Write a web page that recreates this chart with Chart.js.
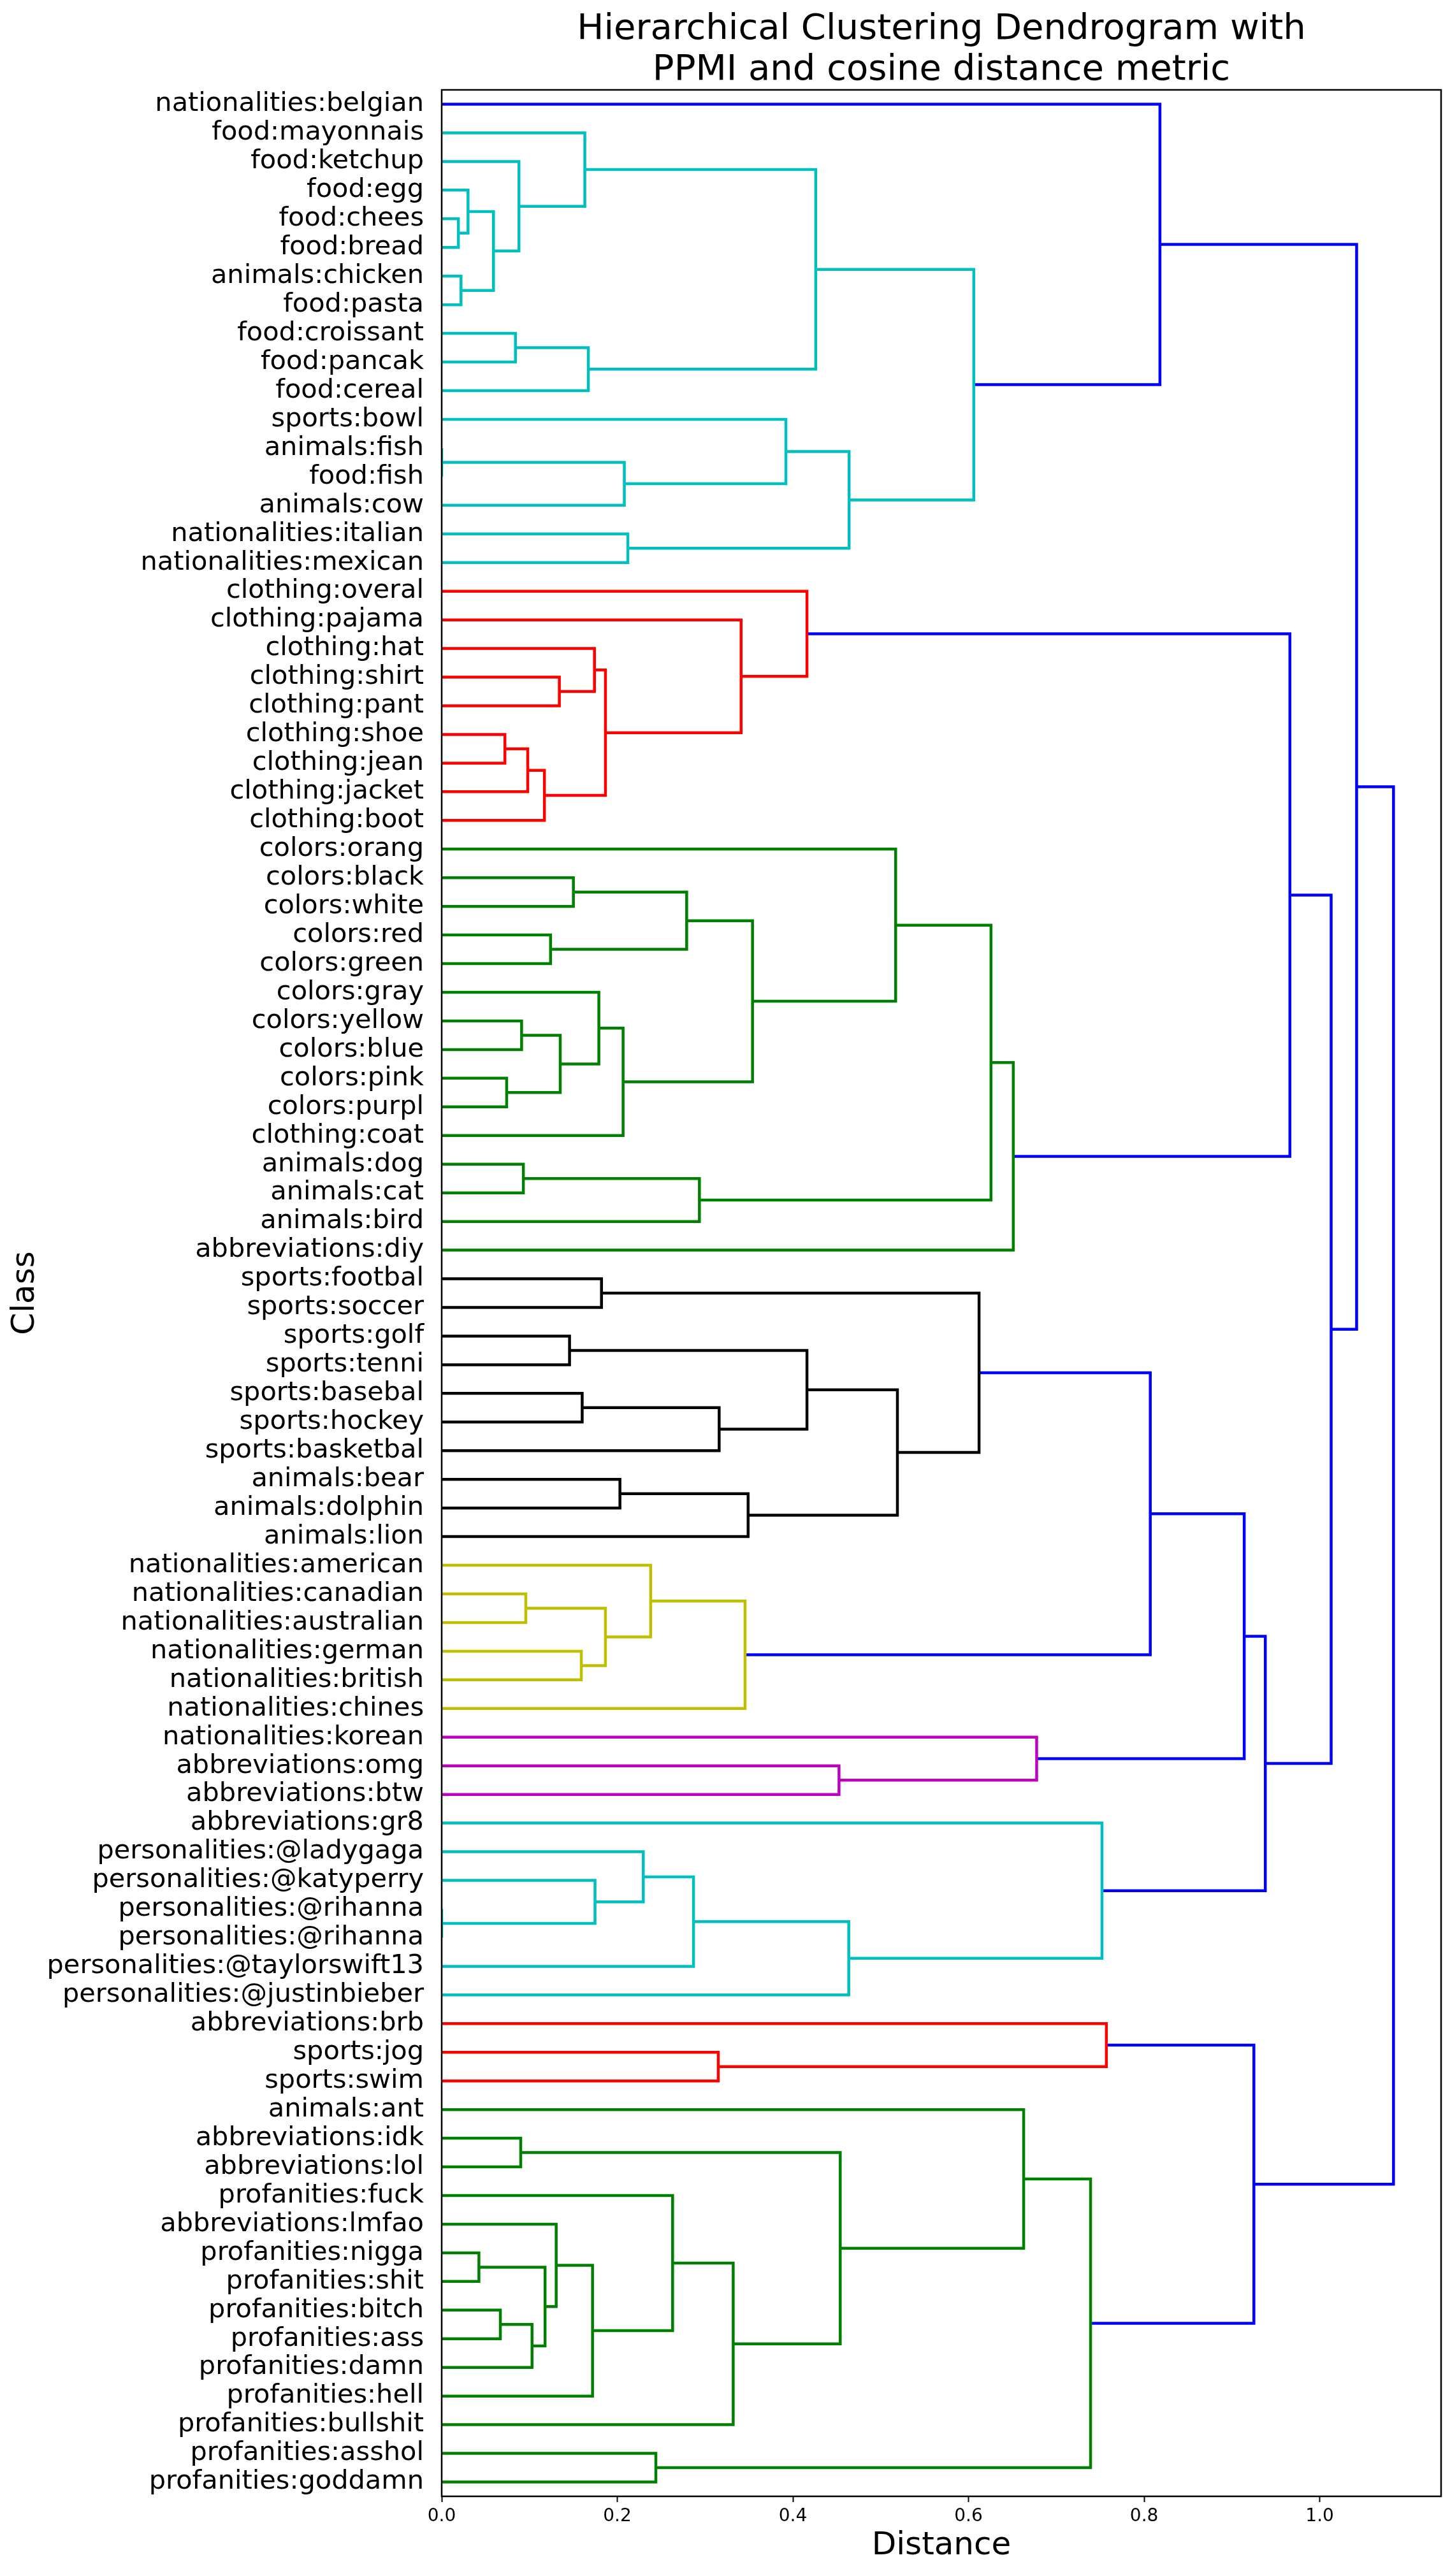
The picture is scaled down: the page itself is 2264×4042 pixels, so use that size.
<!DOCTYPE html>
<html>
<head>
<meta charset="utf-8">
<script src="https://cdn.jsdelivr.net/npm/chart.js@4.4.1/dist/chart.umd.min.js"></script>
<style>
  html, body { margin: 0; padding: 0; background: #fff; }
  #dendro { display: block; }
</style>
</head>
<body>
<canvas id="dendro" width="2264" height="4042" style="width:2264px;height:4042px"></canvas>
<script>
// leaves, top to bottom as they appear on the axis
const leafLabels = [
  "nationalities:belgian", "food:mayonnais", "food:ketchup", "food:egg", "food:chees",
  "food:bread", "animals:chicken", "food:pasta", "food:croissant", "food:pancak",
  "food:cereal", "sports:bowl", "animals:fish", "food:fish", "animals:cow",
  "nationalities:italian", "nationalities:mexican", "clothing:overal", "clothing:pajama", "clothing:hat",
  "clothing:shirt", "clothing:pant", "clothing:shoe", "clothing:jean", "clothing:jacket",
  "clothing:boot", "colors:orang", "colors:black", "colors:white", "colors:red",
  "colors:green", "colors:gray", "colors:yellow", "colors:blue", "colors:pink",
  "colors:purpl", "clothing:coat", "animals:dog", "animals:cat", "animals:bird",
  "abbreviations:diy", "sports:footbal", "sports:soccer", "sports:golf", "sports:tenni",
  "sports:basebal", "sports:hockey", "sports:basketbal", "animals:bear", "animals:dolphin",
  "animals:lion", "nationalities:american", "nationalities:canadian", "nationalities:australian", "nationalities:german",
  "nationalities:british", "nationalities:chines", "nationalities:korean", "abbreviations:omg", "abbreviations:btw",
  "abbreviations:gr8", "personalities:@ladygaga", "personalities:@katyperry", "personalities:@rihanna", "personalities:@rihanna",
  "personalities:@taylorswift13", "personalities:@justinbieber", "abbreviations:brb", "sports:jog", "sports:swim",
  "animals:ant", "abbreviations:idk", "abbreviations:lol", "profanities:fuck", "abbreviations:lmfao",
  "profanities:nigga", "profanities:shit", "profanities:bitch", "profanities:ass", "profanities:damn",
  "profanities:hell", "profanities:bullshit", "profanities:asshol", "profanities:goddamn"
];

// merges: node ids < 84 are leaves, merge k gets id 84 + k
const mergeLeft = [
  4, 3, 6, 85, 2, 1, 8, 90, 89, 12, 93, 11, 15, 95, 92, 0,
  20, 19, 22, 102, 103, 101, 18, 17,
  27, 29, 108, 32, 34, 111, 31, 114, 110, 26, 37, 118, 117, 120, 107,
  41, 43, 45, 125, 124, 48, 128, 127, 123,
  52, 54, 132, 51, 135, 131,
  58, 57, 137,
  63, 62, 61, 143, 144, 60, 140, 122, 99,
  68, 67,
  71, 75, 77, 154, 153, 74, 157, 73, 159, 152, 70, 82, 162, 151, 149
];
const mergeRight = [
  5, 84, 7, 86, 87, 88, 9, 10, 91, 13, 14, 94, 16, 96, 97, 98,
  21, 100, 23, 24, 25, 104, 105, 106,
  28, 30, 109, 33, 35, 112, 113, 36, 115, 116, 38, 39, 119, 40, 121,
  42, 44, 46, 47, 126, 49, 50, 129, 130,
  53, 55, 133, 134, 56, 136,
  59, 138, 139,
  64, 141, 142, 65, 66, 145, 146, 147, 148,
  69, 150,
  72, 76, 78, 79, 155, 156, 80, 158, 81, 160, 161, 83, 163, 164, 165
];
const mergeHeight = [
  0.019, 0.030, 0.022, 0.059, 0.088, 0.163, 0.084, 0.167, 0.426, 0.0, 0.208, 0.392, 0.212, 0.464, 0.606, 0.818,
  0.134, 0.174, 0.072, 0.098, 0.117, 0.1865, 0.341, 0.416,
  0.150, 0.124, 0.279, 0.091, 0.074, 0.135, 0.179, 0.2066, 0.354, 0.517, 0.093, 0.2935, 0.6256, 0.651, 0.966,
  0.182, 0.1456, 0.160, 0.316, 0.416, 0.203, 0.349, 0.519, 0.612,
  0.0958, 0.159, 0.1865, 0.238, 0.3455, 0.807,
  0.4525, 0.6776, 0.914,
  0.0, 0.1746, 0.2296, 0.2868, 0.4636, 0.752, 0.938, 1.013, 1.042,
  0.315, 0.757,
  0.090, 0.0424, 0.0668, 0.1029, 0.1177, 0.1304, 0.1718, 0.263, 0.332, 0.4539, 0.6628, 0.2439, 0.739, 0.925, 1.084
];
const mergeColor = [
  "c", "c", "c", "c", "c", "c", "c", "c", "c", "c", "c", "c", "c", "c", "c", "b",
  "r", "r", "r", "r", "r", "r", "r", "r",
  "g", "g", "g", "g", "g", "g", "g", "g", "g", "g", "g", "g", "g", "g", "b",
  "k", "k", "k", "k", "k", "k", "k", "k", "k",
  "y", "y", "y", "y", "y", "b",
  "m", "m", "b",
  "c", "c", "c", "c", "c", "c", "b", "b", "b",
  "r", "r",
  "g", "g", "g", "g", "g", "g", "g", "g", "g", "g", "g", "g", "g", "b", "b"
];
const distTicks = [0.0, 0.2, 0.4, 0.6, 0.8, 1.0];

const palette = { b: "#0000ff", c: "#00bfbf", r: "#ff0000", g: "#008000", k: "#000000", y: "#bfbf00", m: "#bf00bf" };
const nLeaves = leafLabels.length;

function leafY(i) {
  return 10 * (nLeaves - 1 - i) + 5;
}

function nodeY(id) {
  if (id < nLeaves) return leafY(id);
  const k = id - nLeaves;
  return (nodeY(mergeLeft[k]) + nodeY(mergeRight[k])) / 2;
}

function nodeX(id) {
  return id < nLeaves ? 0 : mergeHeight[id - nLeaves];
}

function buildLinks() {
  return mergeHeight.map((h, k) => {
    const a = mergeLeft[k], b = mergeRight[k];
    return {
      data: [
        { x: nodeX(a), y: nodeY(a) },
        { x: h, y: nodeY(a) },
        { x: h, y: nodeY(b) },
        { x: nodeX(b), y: nodeY(b) }
      ],
      borderColor: palette[mergeColor[k]],
      borderWidth: 4.5,
      borderCapStyle: "butt",
      borderJoinStyle: "miter",
      pointRadius: 0,
      fill: false,
      tension: 0
    };
  });
}

// axes box like matplotlib spines
const frame = {
  id: "frame",
  afterDatasetsDraw(chart) {
    const { ctx, chartArea: a } = chart;
    ctx.save();
    ctx.strokeStyle = "#000";
    ctx.lineWidth = 2.5;
    ctx.strokeRect(a.left, a.top, a.right - a.left, a.bottom - a.top);
    ctx.restore();
  }
};

Chart.defaults.font.family = "'DejaVu Sans', sans-serif";
Chart.defaults.color = "#000";

new Chart(document.getElementById("dendro").getContext("2d"), {
  type: "line",
  data: { datasets: buildLinks() },
  options: {
    responsive: false,
    devicePixelRatio: 1,
    animation: false,
    events: [],
    layout: { padding: { left: 0, right: 3, top: 0, bottom: 0 } },
    scales: {
      x: {
        type: "linear",
        min: 0,
        max: Math.max(...mergeHeight) * 1.05,
        afterBuildTicks: (s) => { s.ticks = distTicks.map((v) => ({ value: v })); },
        afterFit: (s) => { s.height = 125; },
        ticks: { callback: (v) => v.toFixed(1), font: { size: 28 }, padding: 6, maxRotation: 0, autoSkip: false },
        grid: { drawOnChartArea: false, drawTicks: true, tickLength: 9, tickWidth: 2, tickColor: "#000" },
        border: { display: false },
        title: { display: true, text: "Distance", font: { size: 50 }, padding: { top: 0, bottom: 17 } }
      },
      y: {
        type: "linear",
        min: 0,
        max: nLeaves * 10,
        afterBuildTicks: (s) => { s.ticks = leafLabels.map((_, j) => ({ value: 10 * j + 5 })); },
        afterFit: (s) => { s.width = 693; },
        ticks: {
          callback: (v) => leafLabels[nLeaves - 1 - (v - 5) / 10],
          font: { size: 41.5 },
          padding: 20,
          autoSkip: false
        },
        grid: { display: false },
        border: { display: false },
        title: { display: true, text: "Class", font: { size: 50 }, padding: { top: 10, bottom: 0 } }
      }
    },
    plugins: {
      legend: { display: false },
      tooltip: { enabled: false },
      title: {
        display: true,
        fullSize: false,
        text: ["Hierarchical Clustering Dendrogram with", "PPMI and cosine distance metric"],
        font: { size: 56, weight: "normal", lineHeight: 1.143 },
        padding: { top: 14, bottom: -1 }
      }
    }
  },
  plugins: [frame]
});
</script>
</body>
</html>
